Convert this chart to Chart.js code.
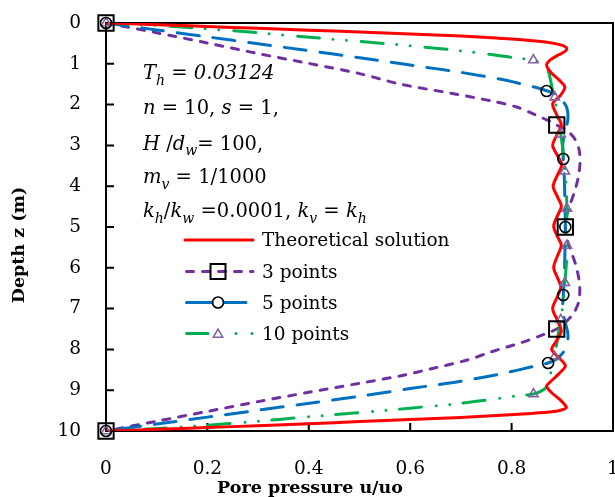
<!DOCTYPE html>
<html><head><meta charset="utf-8">
<script src="https://cdn.jsdelivr.net/npm/chart.js@4.4.1/dist/chart.umd.min.js"></script>
<style>html,body{margin:0;padding:0;background:#fff;overflow:hidden}canvas{display:block}</style>
</head><body>
<canvas id="c" width="615" height="497"></canvas>
<script>
// ---- data (u/uo, depth z) ----
const xTicks = [0, 0.2, 0.4, 0.6, 0.8, 1];
const xTickLabels = ['0', '0.2', '0.4', '0.6', '0.8', '1'];
const yTicks = [0, 1, 2, 3, 4, 5, 6, 7, 8, 9, 10];
const seriesNames = ['Theoretical solution', '3 points', '5 points', '10 points'];

const theoryCurve = [[0,0],[0.1,0.04],[0.2,0.085],[0.3,0.13],[0.4,0.175],[0.5,0.22],[0.6,0.27],[0.7,0.32],[0.77,0.37],[0.83,0.42],[0.87,0.47],[0.895,0.53],[0.908,0.6],[0.907,0.68],[0.893,0.78],[0.877,0.9],[0.869,1.03],[0.878,1.22],[0.894,1.4],[0.905,1.57],[0.896,1.78],[0.881,1.98],[0.889,2.25],[0.898,2.5],[0.889,2.75],[0.881,3.0],[0.89,3.24],[0.899,3.47],[0.89,3.74],[0.882,4.0],[0.89,4.25],[0.898,4.49],[0.89,4.74],[0.883,4.98],[0.89,5.22],[0.898,5.45],[0.89,5.72],[0.883,5.99],[0.89,6.23],[0.897,6.47],[0.889,6.74],[0.881,7.0],[0.89,7.28],[0.898,7.55],[0.889,7.78],[0.879,8.0],[0.893,8.2],[0.906,8.4],[0.893,8.6],[0.876,8.8],[0.869,8.9],[0.878,9.05],[0.897,9.25],[0.908,9.42],[0.9,9.48],[0.88,9.53],[0.84,9.57],[0.77,9.62],[0.7,9.67],[0.6,9.72],[0.5,9.77],[0.4,9.82],[0.3,9.87],[0.2,9.915],[0.1,9.96],[0,10]];

const pts3Curve = [[0,0],[0.1,0.24],[0.2,0.49],[0.3,0.75],[0.383,0.95],[0.5,1.24],[0.581,1.5],[0.68,1.72],[0.76,1.91],[0.81,2.06],[0.845,2.24],[0.872,2.39],[0.889,2.5],[0.91,2.64],[0.925,2.85],[0.933,3.1],[0.935,3.4],[0.932,3.75],[0.925,4.1],[0.914,4.5],[0.907,4.8],[0.906,5.0],[0.908,5.25],[0.916,5.55],[0.927,5.95],[0.934,6.4],[0.933,6.8],[0.923,7.1],[0.907,7.33],[0.889,7.5],[0.86,7.65],[0.82,7.83],[0.76,8.06],[0.713,8.26],[0.65,8.45],[0.58,8.65],[0.5,8.83],[0.4,9.05],[0.3,9.28],[0.2,9.52],[0.1,9.76],[0,10]];
const pts3Nodes = [[0,0],[0.889,2.5],[0.906,5],[0.889,7.5],[0,10]];

const pts5Curve = [[0,0],[0.1,0.17],[0.2,0.34],[0.3,0.51],[0.383,0.65],[0.5,0.85],[0.6,1.03],[0.7,1.21],[0.779,1.38],[0.845,1.57],[0.869,1.66],[0.888,1.76],[0.9,1.9],[0.909,2.08],[0.911,2.35],[0.906,2.65],[0.901,2.95],[0.902,3.333],[0.904,3.8],[0.905,4.3],[0.906,5.0],[0.905,5.7],[0.904,6.2],[0.902,6.667],[0.901,7.05],[0.906,7.35],[0.911,7.62],[0.909,7.92],[0.9,8.1],[0.888,8.24],[0.872,8.333],[0.845,8.41],[0.779,8.6],[0.7,8.78],[0.6,8.96],[0.5,9.15],[0.383,9.35],[0.3,9.49],[0.2,9.66],[0.1,9.83],[0,10]];
const pts5Nodes = [[0,0],[0.869,1.667],[0.902,3.333],[0.906,5],[0.902,6.667],[0.872,8.333],[0,10]];

const pts10Curve = [[0,0],[0.1,0.06],[0.186,0.13],[0.3,0.24],[0.383,0.33],[0.5,0.45],[0.6,0.56],[0.7,0.68],[0.759,0.77],[0.81,0.86],[0.843,0.909],[0.86,0.99],[0.87,1.1],[0.876,1.35],[0.88,1.6],[0.885,1.818],[0.891,2.3],[0.897,2.727],[0.902,3.2],[0.905,3.636],[0.908,4.1],[0.909,4.545],[0.909,5.0],[0.909,5.455],[0.908,5.9],[0.905,6.364],[0.902,6.8],[0.897,7.273],[0.891,7.7],[0.885,8.182],[0.88,8.4],[0.876,8.65],[0.87,8.9],[0.86,9.01],[0.843,9.091],[0.81,9.14],[0.759,9.23],[0.7,9.32],[0.6,9.44],[0.5,9.55],[0.383,9.67],[0.3,9.76],[0.186,9.87],[0.1,9.94],[0,10]];
const pts10Nodes = [[0,0],[0.843,0.909],[0.885,1.818],[0.897,2.727],[0.905,3.636],[0.909,4.545],[0.909,5.455],[0.905,6.364],[0.897,7.273],[0.885,8.182],[0.843,9.091],[0,10]];

// ---- styles ----
const RED = '#FF0000', PURPLE = '#7030A0', BLUE = '#0070C0', GREEN = '#00B050', TRI = '#8064A2';
const FONT = '"DejaVu Serif", serif';
const xy = arr => arr.map(p => ({x: p[0], y: p[1]}));

function curve(data, color, dash, order) {
  return {data: xy(data), showLine: true, borderColor: color, borderWidth: 3, borderDash: dash,
    borderCapStyle: 'round', borderJoinStyle: 'round', pointRadius: 0, pointHoverRadius: 0, tension: 0.3, fill: false, order};
}
function nodes(data, style, radius, color, bw) {
  return {data: xy(data), showLine: false, pointStyle: style, pointRadius: radius, pointHoverRadius: radius, pointBorderColor: color,
    borderColor: color, pointBorderWidth: bw, pointBackgroundColor: 'rgba(0,0,0,0)', backgroundColor: 'rgba(0,0,0,0)',
    clip: false, order: 0};
}

function drawSquare(ctx, x, y) { ctx.save(); ctx.setLineDash([]); ctx.strokeStyle = '#000'; ctx.lineWidth = 2; ctx.strokeRect(x - 7.5, y - 7.5, 15, 15); ctx.restore(); }
function drawCircle(ctx, x, y) { ctx.save(); ctx.setLineDash([]); ctx.strokeStyle = '#000'; ctx.lineWidth = 1.6; ctx.beginPath(); ctx.arc(x, y, 5.5, 0, Math.PI * 2); ctx.stroke(); ctx.restore(); }
function drawTri(ctx, x, y) { ctx.save(); ctx.setLineDash([]); ctx.strokeStyle = TRI; ctx.lineWidth = 1.6; ctx.beginPath(); ctx.moveTo(x, y - 5.4); ctx.lineTo(x + 4.7, y + 2.7); ctx.lineTo(x - 4.7, y + 2.7); ctx.closePath(); ctx.stroke(); ctx.restore(); }

function rich(ctx, x, y, segs, size) {
  segs.forEach(s => {
    const fs = s.sub ? size * 0.72 : size;
    ctx.font = (s.i ? 'italic ' : '') + fs + 'px ' + FONT;
    ctx.fillText(s.t, x, s.sub ? y + size * 0.3 : y);
    x += ctx.measureText(s.t).width;
  });
}

const annotLines = [
  [{t:'T',i:1},{t:'h',i:1,sub:1},{t:' = '},{t:'0.03124',i:1}],
  [{t:'n',i:1},{t:' = 10, '},{t:'s',i:1},{t:' = 1,'}],
  [{t:'H',i:1},{t:' /'},{t:'d',i:1},{t:'w',i:1,sub:1},{t:'= 100,'}],
  [{t:'m',i:1},{t:'v',i:1,sub:1},{t:' = 1/1000'}],
  [{t:'k',i:1},{t:'h',i:1,sub:1},{t:'/'},{t:'k',i:1},{t:'w',i:1,sub:1},{t:' =0.0001, '},{t:'k',i:1},{t:'v',i:1,sub:1},{t:' = '},{t:'k',i:1},{t:'h',i:1,sub:1}]
];
const annotBaselines = [79, 114, 149.5, 183, 217];

const overlay = {
  id: 'overlay',
  beforeDatasetsDraw(chart) {
    const {ctx, chartArea: a, scales: {x, y}} = chart;
    ctx.save();
    ctx.strokeStyle = '#000'; ctx.lineWidth = 2;
    ctx.strokeRect(a.left, a.top, a.right - a.left, a.bottom - a.top);
    ctx.beginPath();
    yTicks.slice(1, -1).forEach(v => { const py = y.getPixelForValue(v); ctx.moveTo(a.left, py); ctx.lineTo(a.left + 8, py); });
    xTicks.slice(1, -1).forEach(v => { const px = x.getPixelForValue(v); ctx.moveTo(px, a.bottom); ctx.lineTo(px, a.bottom - 8); });
    ctx.stroke();
    ctx.restore();
  },
  afterDraw(chart) {
    const ctx = chart.ctx;
    ctx.save();
    ctx.fillStyle = '#000';
    ctx.textAlign = 'left'; ctx.textBaseline = 'alphabetic';
    annotLines.forEach((segs, i) => rich(ctx, 143, annotBaselines[i], segs, 19.5));

    // legend
    const lx0 = 185, lx1 = 253, mx = 218, tx = 262;
    const rows = [240, 271.5, 302.5, 333.5];
    ctx.lineCap = 'round'; ctx.lineWidth = 3;
    ctx.strokeStyle = RED; ctx.setLineDash([]);
    ctx.beginPath(); ctx.moveTo(lx0, rows[0]); ctx.lineTo(lx1, rows[0]); ctx.stroke();
    ctx.strokeStyle = PURPLE; ctx.setLineDash([7, 9]);
    ctx.beginPath(); ctx.moveTo(lx0 + 1.5, rows[1]); ctx.lineTo(lx1, rows[1]); ctx.stroke();
    ctx.setLineDash([]);
    drawSquare(ctx, mx, rows[1]);
    ctx.strokeStyle = BLUE;
    ctx.beginPath(); ctx.moveTo(lx0 + 1.5, rows[2]); ctx.lineTo(mx - 6, rows[2]); ctx.moveTo(mx + 6, rows[2]); ctx.lineTo(246, rows[2]); ctx.stroke();
    drawCircle(ctx, mx, rows[2]);
    ctx.strokeStyle = GREEN;
    ctx.beginPath(); ctx.moveTo(lx0 + 1.5, rows[3]); ctx.lineTo(208, rows[3]); ctx.stroke();
    ctx.beginPath(); ctx.moveTo(236, rows[3]); ctx.lineTo(236.1, rows[3]); ctx.moveTo(252, rows[3]); ctx.lineTo(252.1, rows[3]); ctx.stroke();
    drawTri(ctx, mx, rows[3] + 1);

    ctx.fillStyle = '#000';
    ctx.font = '18.5px ' + FONT;
    seriesNames.forEach((n, i) => ctx.fillText(n, tx, rows[i] + 6));

    // axis titles
    ctx.font = 'bold 17.5px ' + FONT;
    ctx.textAlign = 'center';
    ctx.fillText('Pore pressure u/uo', 310, 493);
    ctx.translate(24, 245); ctx.rotate(-Math.PI / 2);
    ctx.fillText('Depth z (m)', 0, 0);
    ctx.restore();
  }
};

new Chart(document.getElementById('c'), {
  type: 'scatter',
  data: {
    datasets: [
      nodes(pts3Nodes, 'rect', 10.8, '#000', 2),
      nodes(pts5Nodes, 'circle', 5.5, '#000', 1.6),
      nodes(pts10Nodes, 'triangle', 5.4, TRI, 1.6),
      curve(theoryCurve, RED, [], 1),
      curve(pts10Curve, GREEN, [22, 13.5, 0, 13.5, 0, 15], 2),
      curve(pts5Curve, BLUE, [22, 14], 3),
      curve(pts3Curve, PURPLE, [7, 9], 4)
    ]
  },
  options: {
    responsive: false, animation: false, devicePixelRatio: 1,
    layout: {autoPadding: false, padding: {top: 23, right: 2, left: 0, bottom: 0}},
    plugins: {legend: {display: false}, tooltip: {enabled: false}},
    events: [],
    scales: {
      x: {
        type: 'linear', position: 'bottom', min: 0, max: 1,
        grid: {display: false, drawTicks: false}, border: {display: false},
        ticks: {padding: 27, color: '#000', font: {family: 'DejaVu Serif', size: 18.5}, maxRotation: 0, autoSkip: false,
          callback: (v, i) => xTickLabels[i]},
        afterBuildTicks: s => { s.ticks = xTicks.map(v => ({value: v})); },
        afterFit: s => { s.height = 66; s.paddingLeft = 0; s.paddingRight = 0; }
      },
      y: {
        type: 'linear', position: 'left', reverse: true, min: 0, max: 10,
        grid: {display: false, drawTicks: false}, border: {display: false},
        ticks: {padding: 25, color: '#000', font: {family: 'DejaVu Serif', size: 18.5}, autoSkip: false,
          callback: v => String(v)},
        afterBuildTicks: s => { s.ticks = yTicks.map(v => ({value: v})); },
        afterFit: s => { s.width = 106; s.paddingTop = 0; s.paddingBottom = 0; }
      }
    }
  },
  plugins: [overlay]
});
</script>
</body></html>
